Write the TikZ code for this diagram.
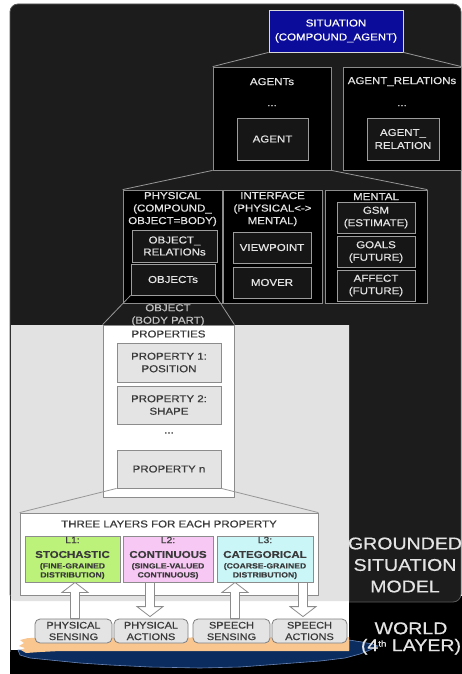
\documentclass[tikz,border=0pt]{standalone}
\usepackage{fontspec}
\setmainfont{Liberation Sans}[FakeStretch=1.15, FakeBold=0.6, BoldFeatures={FakeBold=0.3}]
\usetikzlibrary{calc}

\definecolor{panel}{HTML}{1C1C1C}
\definecolor{edgegray}{HTML}{8C8C8C}
\definecolor{innerfill}{HTML}{161616}
\definecolor{txtlight}{HTML}{E4E4E4}
\definecolor{txtdark}{HTML}{3A3A3A}
\definecolor{lightpanel}{HTML}{E2E2E2}
\definecolor{propfill}{HTML}{E4E4E4}
\definecolor{sitblue}{HTML}{0C0C9A}
\definecolor{lgreen}{HTML}{BDF27A}
\definecolor{lpink}{HTML}{F8C8F4}
\definecolor{lcyan}{HTML}{CBF6F8}
\definecolor{sandorange}{HTML}{FAC690}
\definecolor{navy}{HTML}{0B2C5E}
\definecolor{navyedge}{HTML}{6A86B8}

% vertical hollow block arrow from coordinate #1 to the tip at coordinate #2
\newcommand\blockarrow[2]{%
  \path[blockar] let \p1=(#1), \p2=(#2), \p3=($(#2)!10pt!(#1)$) in
    (\x1-4.5pt,\y1) -- (\x1-4.5pt,\y3) -- (\x1-13pt,\y3) -- (\x1,\y2)
    -- (\x1+13pt,\y3) -- (\x1+4.5pt,\y3) -- (\x1+4.5pt,\y1) -- cycle;}

\begin{document}
\begin{tikzpicture}[x=1pt,y=-1pt,
  darkbox/.style={draw=edgegray, fill=black, line width=0.8pt, inner sep=0pt},
  inbox/.style={draw=edgegray!85, fill=innerfill, line width=0.9pt, inner sep=1pt,
    text=txtlight, align=center, font=\fontsize{10}{12.5}\selectfont},
  lt/.style={text=txtlight, align=center, inner sep=0pt, font=\fontsize{10}{12.5}\selectfont},
  dt/.style={text=txtdark, align=center, inner sep=0pt, font=\fontsize{10}{12.5}\selectfont},
  wbox/.style={draw=edgegray, fill=white, line width=0.8pt, inner sep=0pt},
  pbox/.style={draw=edgegray, fill=propfill, line width=0.8pt, inner sep=1pt,
    text=txtdark, align=center, font=\fontsize{10}{12.5}\selectfont},
  lbx/.style={draw=edgegray, line width=0.8pt, inner sep=0pt, minimum width=#1, minimum height=46pt},
  lsmall/.style={text=txtdark, align=center, inner sep=0pt, font=\bfseries\fontsize{7.5}{9}\selectfont},
  lmain/.style={text=txtdark, align=center, inner sep=0pt, font=\bfseries\fontsize{10}{10}\selectfont},
  lhead/.style={text=txtdark, align=center, inner sep=0pt, font=\fontsize{9}{9}\selectfont},
  sense/.style={draw=edgegray!90!black, fill=propfill, line width=0.8pt, rounded corners=5pt,
    inner sep=0pt, minimum height=24pt, text=txtdark, align=center,
    font=\fontsize{9.5}{11.5}\selectfont},
  big/.style={text=txtlight, align=center, inner sep=0pt},
  zoomline/.style={draw=edgegray!90, line width=0.8pt},
  blockar/.style={fill=white, draw=edgegray, line width=0.8pt, line join=miter}]

\useasboundingbox (0,0) rectangle (462,674);

% backgrounds
\fill[black] (10,596) rectangle (462,674);
\draw[draw=black!65, fill=panel, line width=0.8pt, rounded corners=8pt] (10,4) rectangle (461,602);
\fill[white] (10.5,596) rectangle (349,650);
\fill[lightpanel] (349,325) -- (349,601) -- (17,601) .. controls (11,601) .. (11,595) -- (11,325) -- cycle;
\draw[black!80, line width=0.8pt] (10.4,596) -- (10.4,652);

% sand strip and water below the world layer
\fill[navy, draw=navyedge, line width=0.6pt]
  (18,650) -- (349,650) -- (349,640) -- (362,642) -- (372,644) -- (378,646) -- (370,650)
  -- (360,654) -- (345,658) -- (320,661) -- (280,664) -- (240,667) -- (200,668)
  -- (150,667) -- (110,665) -- (80,663) -- (50,660) -- (30,658) -- (20,655) -- cycle;
\fill[sandorange]
  (349,637) -- (349,651) -- (60,651) -- (40,652) -- (26,653) -- (21,650) -- (25,648)
  -- (19,646) -- (24,643) -- (20,640) -- (28,638) -- cycle;

% top of the hierarchy
\node[draw=white!85!black, fill=sitblue, line width=0.8pt, text=white, align=center,
  minimum width=134pt, minimum height=42pt, inner sep=0pt,
  font=\fontsize{10}{14}\selectfont] (sit) at (336,31) {SITUATION\\(COMPOUND\_AGENT)};

\node[darkbox, minimum width=118pt, minimum height=103pt] (agents) at (272,118.5) {};
\node[darkbox, minimum width=118pt, minimum height=103pt] (arels) at (402,118.5) {};
\node[lt] (agentsT) at ($(agents.north)+(0,15)$) {AGENTs};
\node[lt] (agentsD) at ($(agents.north)+(0,39)$) {...};
\node[lt] (arelsT) at ($(arels.north)+(0,15)$) {AGENT\_RELATIONs};
\node[lt] (arelsD) at ($(arels.north)+(0,39)$) {...};
\node[inbox, minimum width=71pt, minimum height=42pt] (agent) at (272.5,139) {AGENT};
\node[inbox, minimum width=72pt, minimum height=42pt, font=\fontsize{10}{13}\selectfont]
  (arel) at (403,139) {AGENT\_\\RELATION};

\draw[zoomline] (sit.south west) -- (agents.north west);
\draw[zoomline] (sit.south east) -- (arels.north east);

% the agent
\node[darkbox, minimum width=99pt, minimum height=113pt] (phys) at (172.5,246.5) {};
\node[darkbox, minimum width=99pt, minimum height=113pt] (iface) at (272.5,246.5) {};
\node[darkbox, minimum width=102pt, minimum height=113pt] (ment) at (376,246.5) {};
\node[lt] (physT) at ($(phys.north)+(0,19.5)$) {PHYSICAL\\(COMPOUND\_\\OBJECT=BODY)};
\node[lt] (ifaceT) at ($(iface.north)+(0,19.5)$) {INTERFACE\\(PHYSICAL<->\\MENTAL)};
\node[lt] (mentT) at ($(ment.north)+(0,7)$) {MENTAL};

\node[inbox, minimum width=85pt, minimum height=32pt, font=\fontsize{10}{12}\selectfont]
  (orels) at (174.5,246) {OBJECT\_\\RELATIONs};
\node[inbox, minimum width=84pt, minimum height=31pt] (objs) at (173,279.5) {OBJECTs};
\node[inbox, minimum width=78pt, minimum height=31pt] (view) at (272,247.5) {VIEWPOINT};
\node[inbox, minimum width=78pt, minimum height=31pt] (mover) at (272,282.5) {MOVER};
\node[inbox, minimum width=78pt, minimum height=31pt] (gsmb) at (376,217.5) {GSM\\(ESTIMATE)};
\node[inbox, minimum width=78pt, minimum height=31pt] (goals) at (376,252) {GOALS\\(FUTURE)};
\node[inbox, minimum width=78pt, minimum height=31pt] (affect) at (376,285.5) {AFFECT\\(FUTURE)};

\draw[zoomline] (agents.south west) -- (phys.north west);
\draw[zoomline] (agents.south east) -- (ment.north east);

% one object and its properties
\node[wbox, minimum width=131pt, minimum height=172pt] (props) at (168.5,411) {};
\draw[zoomline] (objs.south west) -- (props.north west);
\draw[zoomline] (objs.south east) -- (props.north east);
\node[lt, text=txtlight!85!black] (objT) at (168,315) {OBJECT\\(BODY PART)};
\node[dt] (propsT) at (168.5,334) {PROPERTIES};
\node[pbox, minimum width=104pt, minimum height=39pt] (p1) at (169,362.5) {PROPERTY 1:\\POSITION};
\node[pbox, minimum width=104pt, minimum height=38pt] (p2) at (169,405) {PROPERTY 2:\\SHAPE};
\node[dt] (pdots) at (169,433) {...};
\node[pbox, minimum width=104pt, minimum height=38pt] (pn) at (169,469) {PROPERTY n};

% three layers of a property
\node[wbox, minimum width=298pt, minimum height=82pt] (three) at (169,554) {};
\draw[zoomline] (pn.south west) -- (three.north west);
\draw[zoomline] (pn.south east) -- (three.north east);
\node[dt] (threeT) at (169,524) {THREE LAYERS FOR EACH PROPERTY};

\node[lbx=95pt, fill=lgreen] (l1) at (72.5,559) {};
\node[lhead] (l1a) at ($(l1)+(0,-19)$) {L1:};
\node[lmain] (l1b) at ($(l1)+(0,-4.5)$) {STOCHASTIC};
\node[lsmall] (l1c) at ($(l1)+(0,12)$) {(FINE-GRAINED\\DISTRIBUTION)};

\node[lbx=90pt, fill=lpink] (l2) at (168,559) {};
\node[lhead] (l2a) at ($(l2)+(0,-19)$) {L2:};
\node[lmain] (l2b) at ($(l2)+(0,-4.5)$) {CONTINUOUS};
\node[lsmall] (l2c) at ($(l2)+(0,12)$) {(SINGLE-VALUED\\CONTINUOUS)};

\node[lbx=96pt, fill=lcyan] (l3) at (265,559) {};
\node[lhead] (l3a) at ($(l3)+(0,-19)$) {L3:};
\node[lmain] (l3b) at ($(l3)+(0,-4.5)$) {CATEGORICAL};
\node[lsmall] (l3c) at ($(l3)+(0,12)$) {(COARSE-GRAINED\\DISTRIBUTION)};

% sensing and acting in the world
\node[sense, minimum width=77pt] (ps) at (73.5,631) {PHYSICAL\\SENSING};
\node[sense, minimum width=74pt] (pa) at (151,631) {PHYSICAL\\ACTIONS};
\node[sense, minimum width=77pt] (ss) at (231.5,631) {SPEECH\\SENSING};
\node[sense, minimum width=75pt] (sa) at (309.5,631) {SPEECH\\ACTIONS};

% arrow ends between the layers and the world
\coordinate (a1s) at ($(ps.north)+(1.5,0)$);
\coordinate (a1t) at (a1s |- l1.south);
\coordinate (a2t) at ($(pa.north)+(-1,-2)$);
\coordinate (a2s) at (a2t |- l2.south);
\coordinate (a3s) at ($(ss.north)+(3.5,0)$);
\coordinate (a3t) at (a3s |- l3.south);
\coordinate (a4t) at ($(sa.north)+(-6.5,-2)$);
\coordinate (a4s) at (a4t |- l3.south);
\blockarrow{a1s}{a1t}
\blockarrow{a2s}{a2t}
\blockarrow{a3s}{a3t}
\blockarrow{a4s}{a4t}

% layer captions
\node[big, font=\fontsize{17}{21.5}\selectfont] (gsmT) at (405,565) {GROUNDED\\SITUATION\\MODEL};
\node[big, font=\fontsize{17}{17}\selectfont] (worldT) at (411,638.5)
  {WORLD\\(4\raisebox{4.5pt}{\fontsize{8.5}{8.5}\selectfont th} LAYER)};

\end{tikzpicture}
\end{document}
